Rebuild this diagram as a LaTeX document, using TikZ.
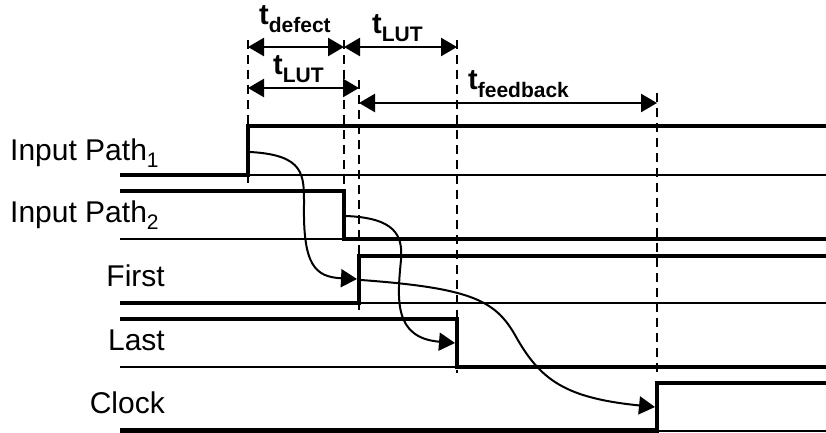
\documentclass[tikz,border=0pt]{standalone}
\usepackage{fontspec}
\setmainfont{Liberation Sans}
\usetikzlibrary{arrows.meta}
\newcommand\tsub[1]{\raisebox{-8pt}{\fontsize{21}{21}\selectfont #1}}
\newcommand\sigsub[1]{\raisebox{-7pt}{\fontsize{21}{21}\selectfont #1}}
\begin{document}
\begin{tikzpicture}[x=1pt,y=-1pt,
  hi/.style={line width=4.5pt, line join=miter, line cap=butt},
  lo/.style={line width=1.8pt},
  guide/.style={line width=1.7pt, dash pattern=on 9pt off 6pt},
  dim/.style={line width=2.5pt, {Triangle[length=16pt,width=18pt]}-{Triangle[length=16pt,width=18pt]}},
  cause/.style={line width=2pt, -{Triangle[length=16pt,width=18pt]}},
  siglabel/.style={inner sep=0pt, anchor=base east, font=\fontsize{30}{30}\selectfont},
  tlabel/.style={inner sep=0pt, anchor=base west, font=\bfseries\fontsize{29}{29}\selectfont}]
\useasboundingbox (0,0) rectangle (826,433);

% timing reference lines
\coordinate (g1t) at (248,40);  \coordinate (g1b) at (248,183);
\coordinate (g2t) at (344,40);  \coordinate (g2b) at (344,190);
\coordinate (g3t) at (359,80);  \coordinate (g3b) at (359,310);
\coordinate (g4t) at (457,40);  \coordinate (g4b) at (457,373);
\coordinate (g5t) at (657,93);  \coordinate (g5b) at (657,373);
\foreach \g in {1,...,5} \draw[guide] (g\g t) -- (g\g b);

% signal waveforms
\draw[hi] (120,175) -- (248,175) -- (248,126) -- (826,126);
\draw[lo] (248,175) -- (826,175);
\draw[hi] (120,191) -- (344,191) -- (344,239) -- (826,239);
\draw[lo] (120,239) -- (344,239);
\draw[hi] (120,303) -- (359,303) -- (359,256) -- (826,256);
\draw[lo] (359,303) -- (826,303);
\draw[hi] (120,319) -- (457,319) -- (457,367) -- (826,367);
\draw[lo] (120,367) -- (457,367);
\draw[hi] (120,430.5) -- (657,430.5) -- (657,383) -- (826,383);
\draw[lo] (657,431) -- (826,431);

% signal names
\node[siglabel, anchor=base west] (in1) at (10,160) {Input Path\sigsub{1}};
\node[siglabel, anchor=base west] (in2) at (10,222) {Input Path\sigsub{2}};
\node[siglabel] (first) at (165,286) {First};
\node[siglabel] (last) at (165,350) {Last};
\node[siglabel] (clock) at (165,413) {Clock};

% interval markers
\coordinate (a1) at (248,47);  \coordinate (a2) at (344,47);  \coordinate (a3) at (457,47);
\coordinate (b1) at (248,88);  \coordinate (b2) at (359,88);
\coordinate (c1) at (359,103); \coordinate (c2) at (657,103);
\draw[dim] (a1) -- (a2);
\draw[dim] (a2) -- (a3);
\draw[dim] (b1) -- (b2);
\draw[dim] (c1) -- (c2);
\node[tlabel] (tdef) at (259,25) {t\tsub{defect}};
\node[tlabel] (tlut1) at (372,34) {t\tsub{LUT}};
\node[tlabel] (tlut2) at (273,75) {t\tsub{LUT}};
\node[tlabel] (tfb) at (468,90) {t\tsub{feedback}};

% causal dependencies between transitions
\coordinate (s1) at (250,152); \coordinate (e1) at (357,279);
\coordinate (s2) at (346,216); \coordinate (e2) at (455,343);
\coordinate (s3) at (361,280); \coordinate (e3) at (655,407);
\draw[cause] (s1) .. controls (305,155) and (304,175) .. (304,205)
             .. controls (303,265) and (315,277) .. (e1);
\draw[cause] (s2) .. controls (395,218) and (403,235) .. (401,260)
             .. controls (397,300) and (394,338) .. (e2);
\draw[cause] (s3) .. controls (470,288) and (495,300) .. (515,335)
             .. controls (540,380) and (565,398) .. (e3);
\end{tikzpicture}
\end{document}
